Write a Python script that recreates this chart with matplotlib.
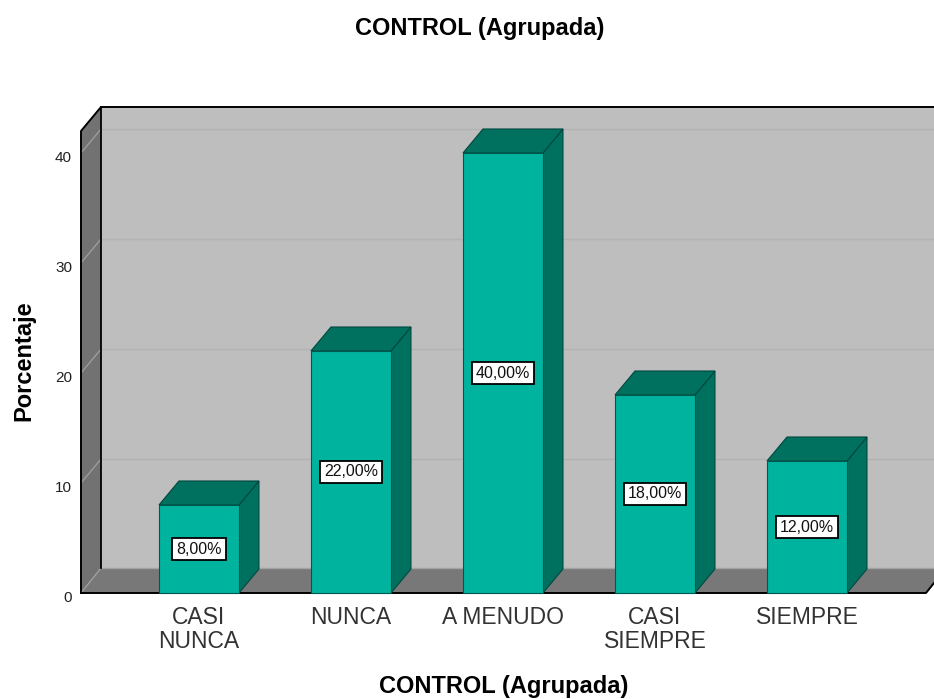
import matplotlib
matplotlib.use("Agg")
import matplotlib.pyplot as plt
from matplotlib.patches import Polygon
from matplotlib.transforms import ScaledTranslation

categorias = ["CASI\nNUNCA", "NUNCA", "A MENUDO", "CASI\nSIEMPRE", "SIEMPRE"]
porcentajes = [8, 22, 40, 18, 12]
etiquetas = ["8,00%", "22,00%", "40,00%", "18,00%", "12,00%"]
ticks_y = [0, 10, 20, 30, 40]

W, H = 934, 699
FRENTE = "#00b39f"
LADO = "#00705f"
PARED = "#bebebe"
SUELO = "#787878"
GRID = "#b2b2b2"

plt.rcParams["font.family"] = ["Liberation Sans", "DejaVu Sans"]

fig = plt.figure(figsize=(W / 100, H / 100), dpi=100)
# eje frontal en pixeles: x 81-926, y 593-131
ax = fig.add_axes([81 / W, 1 - 593 / H, (926 - 81) / W, (593 - 131) / H])
ax.set_xlim(-0.776, 4.783)
ax.set_ylim(0, 42)
ax.patch.set_visible(False)

# profundidad de la perspectiva en unidades de datos
dx = 20 / 152
dy = 24 / 11
dy_suelo = 25 / 11
ancho = 80 / 152
x0, x1 = ax.get_xlim()
y1 = ax.get_ylim()[1]


def poli(puntos, color, borde="none", lw=0.8, z=1):
    p = Polygon(puntos, closed=True, facecolor=color, edgecolor=borde, lw=lw,
                zorder=z, clip_on=False)
    ax.add_patch(p)


# pared del fondo, pared lateral y suelo
poli([(x0 + dx, dy_suelo), (x1 + 2 * dx, dy_suelo), (x1 + 2 * dx, y1 + dy), (x0 + dx, y1 + dy)], PARED)
poli([(x0, 0), (x0 + dx, dy_suelo), (x0 + dx, y1 + dy), (x0, y1)], "#727272")
poli([(x0, 0), (x1, 0), (x1 + dx, dy_suelo), (x0 + dx, dy_suelo)], SUELO)

# lineas de rejilla sobre las paredes
for t in ticks_y[1:]:
    ax.plot([x0 + dx, x1 + 2 * dx], [t + dy, t + dy], color=GRID, lw=1.0, zorder=2, clip_on=False)
    ax.plot([x0, x0 + dx], [t, t + dy], color="#a0a0a0", lw=0.9, zorder=2, clip_on=False)
ax.plot([x0, x0 + dx], [0, dy_suelo], color="#a0a0a0", lw=0.9, zorder=2, clip_on=False)
ax.plot([x0 + dx, x1 + 2 * dx], [dy_suelo, dy_suelo], color="#a2a2a2", lw=1, zorder=2, clip_on=False)

# contornos negros
ax.plot([x0, x0, x0 + dx, x1 + 2 * dx], [0, y1, y1 + dy, y1 + dy], color="black", lw=1.4, zorder=3, clip_on=False)
ax.plot([x0 + dx, x0 + dx], [dy_suelo, y1 + dy], color="black", lw=1.3, zorder=3, clip_on=False)
ax.plot([x0, x1, x1 + dx], [0, 0, dy_suelo], color="black", lw=1.4, zorder=3, clip_on=False)

# barras con cara frontal, lateral y superior
for i, v in enumerate(porcentajes):
    a = i - ancho / 2
    b = i + ancho / 2
    z = 5
    poli([(b, 0), (b + dx, dy), (b + dx, v + dy), (b, v)], LADO, "#00483e", z=z)
    poli([(a, v), (b, v), (b + dx, v + dy), (a + dx, v + dy)], LADO, "#00483e", z=z)
    poli([(a, 0), (b, 0), (b, v), (a, v)], FRENTE, "#00594e", z=z)
    ax.text(i, v / 2, etiquetas[i], ha="center", va="center", fontsize=11.5, color="#111111", zorder=7,
            bbox=dict(boxstyle="square,pad=0.25", facecolor="white", edgecolor="black", lw=1.3))

ax.set_xticks(range(len(categorias)))
ax.set_xticklabels(categorias, fontsize=16.5, color="#333333", linespacing=1.06)
ax.tick_params(axis="x", length=0, pad=9.5)
ax.set_yticks(ticks_y)
ax.set_yticklabels([str(t) for t in ticks_y], fontsize=11, color="#222222")
ax.tick_params(axis="y", length=0, pad=6.5)
# las etiquetas del eje y van un poco por debajo de su marca
for lab in ax.get_yticklabels():
    lab.set_transform(lab.get_transform() + ScaledTranslation(0, -3 / 100, fig.dpi_scale_trans))
for s in ax.spines.values():
    s.set_visible(False)

fig.text(480 / W, 1 - 29 / H, "CONTROL (Agrupada)", ha="center", va="center", fontsize=17, fontweight="bold")
fig.text(504 / W, 1 - 687 / H, "CONTROL (Agrupada)", ha="center", va="center", fontsize=17, fontweight="bold")
fig.text(24 / W, 1 - 361 / H, "Porcentaje", ha="center", va="center", rotation=90, fontsize=17, fontweight="bold")

fig.savefig("out.png", dpi=100)
